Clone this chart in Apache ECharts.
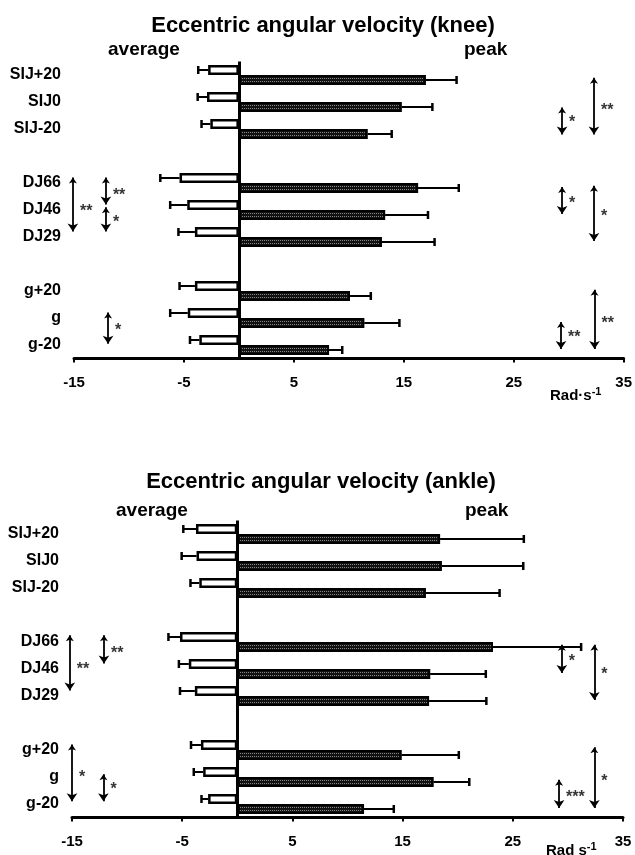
<!DOCTYPE html>
<html>
<head>
<meta charset="utf-8">
<script src="https://cdn.jsdelivr.net/npm/echarts@6/dist/echarts.min.js"></script>
<style>
  html, body { margin: 0; padding: 0; background: #fff; }
  #main { width: 635px; height: 855px; }
</style>
</head>
<body>
<div id="main"></div>
<script>
// categories, with empty slots between the groups
const categories = ['SIJ+20', 'SIJ0', 'SIJ-20', '', 'DJ66', 'DJ46', 'DJ29', '', 'g+20', 'g', 'g-20']
const xTicks = [-15, -5, 5, 15, 25, 35]

// knee (rad/s), '-' = empty slot
const kneeAvg = [-2.8, -2.9, -2.6, '-', -5.4, -4.7, -4.0, '-', -4.0, -4.65, -3.6]
const kneeAvgSD = [0.9, 0.85, 0.8, '-', 1.75, 1.55, 1.5, '-', 1.4, 1.6, 0.85]
const kneePeak = [17.0, 14.8, 11.7, '-', 16.3, 13.3, 13.0, '-', 10.1, 11.4, 8.2]
const kneePeakSD = [2.8, 2.8, 2.2, '-', 3.7, 3.9, 4.8, '-', 1.9, 3.2, 1.2]

// ankle (rad/s)
const ankleAvg = [-3.75, -3.7, -3.45, '-', -5.2, -4.4, -3.85, '-', -3.3, -3.1, -2.65]
const ankleAvgSD = [1.15, 1.35, 0.8, '-', 1.05, 0.9, 1.35, '-', 0.9, 0.85, 0.6]
const anklePeak = [18.4, 18.55, 17.1, '-', 23.2, 17.5, 17.4, '-', 14.9, 17.8, 11.5]
const anklePeakSD = [7.6, 7.4, 6.7, '-', 8.0, 5.05, 5.2, '-', 5.2, 3.25, 2.7]

// significance arrows: x value, from/to slot position (0..11), star text and its slot position
const kneeSigX = [-15.1, -12.1, -12.1, -11.9, 29.4, 32.3, 29.4, 32.3, 29.3, 32.35]
const kneeSigFrom = [4.3, 4.3, 5.4, 9.3, 1.7, 0.6, 4.65, 4.6, 9.65, 8.45]
const kneeSigTo = [6.3, 5.3, 6.3, 10.45, 2.7, 2.7, 5.65, 6.65, 10.65, 10.65]
const kneeSigText = ['**', '**', '*', '*', '*', '**', '*', '*', '**', '**']
const kneeSigTextY = [5.45, 4.85, 5.85, 9.85, 2.15, 1.7, 5.15, 5.65, 10.1, 9.6]

const ankleSigX = [-15.2, -12.1, -15.0, -12.15, 29.45, 32.4, 29.2, 32.4]
const ankleSigFrom = [4.25, 4.25, 8.3, 9.4, 4.6, 4.6, 9.6, 8.4]
const ankleSigTo = [6.3, 5.3, 10.4, 10.4, 5.65, 6.65, 10.65, 10.65]
const ankleSigText = ['**', '**', '*', '*', '*', '*', '***', '*']
const ankleSigTextY = [5.4, 4.8, 9.4, 9.85, 5.1, 5.6, 10.15, 9.55]

const FONT = 'Liberation Sans, Arial, Helvetica, sans-serif'
const BAR_W = 10

const chart = echarts.init(document.getElementById('main'))

function errorBars(values, sds, offset, xIdx, yIdx) {
	const data = []
	values.forEach((v, i) => {
		if (v === '-') return
		const end = v < 0 ? v - sds[i] : v + sds[i]
		data.push([v, i, end])
	})
	return {
		type: 'custom',
		xAxisIndex: xIdx,
		yAxisIndex: yIdx,
		silent: true,
		z: 1,
		renderItem(params, api) {
			const p0 = api.coord([api.value(0), api.value(1)])
			const p1 = api.coord([api.value(2), api.value(1)])
			const y = p0[1] + offset
			return {
				type: 'group',
				children: [
					{ type: 'line', shape: { x1: p0[0], y1: y, x2: p1[0], y2: y }, style: { stroke: '#000', lineWidth: 2 } },
					{ type: 'line', shape: { x1: p1[0], y1: y - 4, x2: p1[0], y2: y + 4 }, style: { stroke: '#000', lineWidth: 2.5 } }
				]
			}
		},
		encode: { x: [0, 2], y: 1 },
		data
	}
}

function panel(avg, avgSD, peak, peakSD, sigX, sigFrom, sigTo, sigText, sigTextY, xIdx, yIdx, vIdx) {
	const arrows = sigX.map((x, i) => ({ coords: [[x, sigFrom[i]], [x, sigTo[i]]] }))
	const stars = sigX.map((x, i) => ({ value: [x, sigTextY[i]], text: sigText[i] }))
	return [
		{
			name: 'average',
			type: 'bar',
			xAxisIndex: xIdx,
			yAxisIndex: yIdx,
			barWidth: BAR_W,
			barGap: '0%',
			z: 2,
			itemStyle: { color: '#fff', borderColor: '#000', borderWidth: 2.5 },
			markLine: {
				silent: true,
				symbol: 'none',
				label: { show: false },
				lineStyle: { color: '#000', width: 3, type: 'solid' },
				data: [{ xAxis: 0 }]
			},
			data: avg
		},
		{
			name: 'peak',
			type: 'bar',
			xAxisIndex: xIdx,
			yAxisIndex: yIdx,
			barWidth: BAR_W,
			barGap: '0%',
			z: 2,
			itemStyle: {
				color: '#111',
				borderColor: '#000',
				borderWidth: 2,
				decal: {
					symbol: 'rect',
					symbolSize: 1,
					color: 'rgba(255,255,255,0.5)',
					dashArrayX: [1, 1],
					dashArrayY: [1, 2],
					rotation: 0
				}
			},
			data: peak
		},
		errorBars(avg, avgSD, -BAR_W / 2, xIdx, yIdx),
		errorBars(peak, peakSD, BAR_W / 2, xIdx, yIdx),
		{
			type: 'lines',
			coordinateSystem: 'cartesian2d',
			xAxisIndex: xIdx,
			yAxisIndex: vIdx,
			silent: true,
			clip: false,
			symbol: ['arrow', 'arrow'],
			symbolSize: [6, 8],
			lineStyle: { color: '#000', width: 1.8, opacity: 1 },
			data: arrows
		},
		{
			type: 'scatter',
			xAxisIndex: xIdx,
			yAxisIndex: vIdx,
			silent: true,
			clip: false,
			symbolSize: 0,
			label: {
				show: true,
				position: 'right',
				distance: 7,
				offset: [0, 3],
				color: '#000',
				fontFamily: FONT,
				fontWeight: 'bold',
				fontSize: 16,
				formatter: p => p.data.text
			},
			data: stars
		}
	]
}

function xAxis(gridIndex) {
	return {
		gridIndex,
		type: 'value',
		min: -15,
		max: 35,
		splitLine: { show: false },
		axisLine: { onZero: false, lineStyle: { color: '#000', width: 3 } },
		axisTick: { length: 4, lineStyle: { color: '#000', width: 2 }, customValues: xTicks },
		axisLabel: { color: '#000', fontFamily: FONT, fontWeight: 'bold', fontSize: 15, margin: 17, customValues: xTicks }
	}
}

function catAxis(gridIndex) {
	return {
		gridIndex,
		type: 'category',
		inverse: true,
		data: categories,
		axisLine: { show: false, onZero: false },
		axisTick: { show: false },
		axisLabel: { color: '#000', fontFamily: FONT, fontWeight: 'bold', fontSize: 16, margin: 13 }
	}
}

function slotAxis(gridIndex) {
	return { gridIndex, type: 'value', min: 0, max: 11, inverse: true, show: false }
}

const titleStyle = { color: '#000', fontFamily: FONT, fontWeight: 'bold', fontSize: 22 }
const subStyle = { color: '#000', fontFamily: FONT, fontWeight: 'bold', fontSize: 19 }
const unitStyle = {
	color: '#000', fontFamily: FONT, fontWeight: 'bold', fontSize: 15,
	rich: { sup: { fontFamily: FONT, fontWeight: 'bold', fontSize: 11, verticalAlign: 'top', padding: [0, 0, 8, 0] } }
}

chart.setOption({
	backgroundColor: '#fff',
	animation: false,
	title: [
		{ text: 'Eccentric angular velocity (knee)', left: 318, top: 10, textAlign: 'center', textStyle: titleStyle },
		{ text: 'average', left: 103, top: 35, textStyle: subStyle },
		{ text: 'peak', left: 459, top: 35, textStyle: subStyle },
		{ text: 'Rad·s{sup|-1}', left: 545, top: 381, textStyle: unitStyle },
		{ text: 'Eccentric angular velocity (ankle)', left: 316, top: 466, textAlign: 'center', textStyle: titleStyle },
		{ text: 'average', left: 111, top: 496, textStyle: subStyle },
		{ text: 'peak', left: 460, top: 496, textStyle: subStyle },
		{ text: 'Rad s{sup|-1}', left: 541, top: 836, textStyle: unitStyle }
	],
	grid: [
		{ left: 74, width: 552, top: 61.5, height: 297 },
		{ left: 72, width: 551, top: 520.5, height: 297 }
	],
	xAxis: [xAxis(0), xAxis(1)],
	yAxis: [catAxis(0), slotAxis(0), catAxis(1), slotAxis(1)],
	series: [
		...panel(kneeAvg, kneeAvgSD, kneePeak, kneePeakSD, kneeSigX, kneeSigFrom, kneeSigTo, kneeSigText, kneeSigTextY, 0, 0, 1),
		...panel(ankleAvg, ankleAvgSD, anklePeak, anklePeakSD, ankleSigX, ankleSigFrom, ankleSigTo, ankleSigText, ankleSigTextY, 1, 2, 3)
	]
})
</script>
</body>
</html>
